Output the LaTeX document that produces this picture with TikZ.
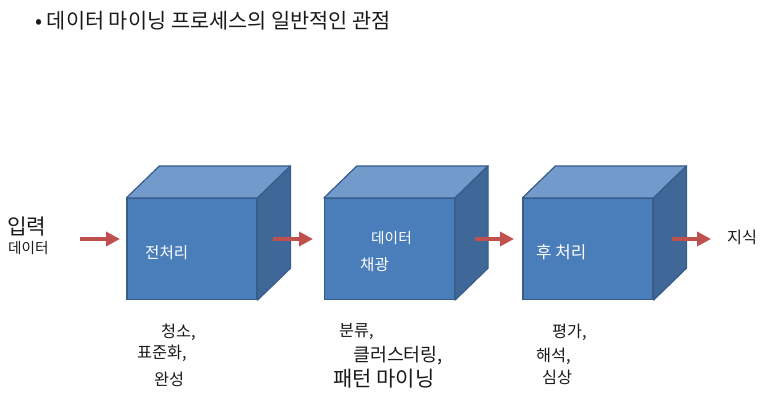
\documentclass[tikz,border=0pt]{standalone}
\usepackage{fontspec}
\setmainfont{Noto Sans CJK KR}
\usetikzlibrary{arrows.meta,calc}

\definecolor{cubefront}{HTML}{4A7EBB}
\definecolor{cubetop}{HTML}{729ACA}
\definecolor{cubeside}{HTML}{3F6899}
\definecolor{cubeedge}{HTML}{385D8A}
\definecolor{flowred}{HTML}{C0504D}
\definecolor{ink}{HTML}{1A1A1A}

\tikzset{
  front/.style={draw=cubeedge, fill=cubefront, line width=1.2pt, minimum width=130pt, minimum height=101pt, inner sep=0pt},
  topface/.style={draw=cubeedge, fill=cubetop, line width=1.2pt, line join=round},
  sideface/.style={draw=cubeedge, fill=cubeside, line width=1.2pt, line join=round},
  flow/.style={flowred, line width=4.5pt, -{Triangle[length=14pt,width=14pt]}},
  inlabel/.style={white, anchor=west, inner sep=0pt, font=\fontsize{14.7}{17}\selectfont},
  outlabel/.style={ink, anchor=west, inner sep=0pt, font=\fontsize{16.3}{19}\selectfont}
}

\newcommand{\drawcube}[1]{%
  \draw[topface] (#1.north west) -- ($(#1.north west)+(33,-32)$) -- ($(#1.north east)+(33,-32)$) -- (#1.north east) -- cycle;
  \draw[sideface] (#1.north east) -- ($(#1.north east)+(33,-32)$) -- ($(#1.south east)+(33,-32)$) -- (#1.south east) -- cycle;
}

\begin{document}
\begin{tikzpicture}[x=1pt,y=-1pt]
  \useasboundingbox (0,0) rectangle (773,409);
  % title
  \node[ink, anchor=west, inner sep=0pt, font=\fontsize{20.8}{23}\selectfont] (title) at (35,21) {• 데이터 마이닝 프로세스의 일반적인 관점};

  % cubes
  \node[front] (pre) at (192,249) {};
  \node[front] (mine) at (389.5,249) {};
  \node[front] (post) at (588,249) {};
  \drawcube{pre}
  \drawcube{mine}
  \drawcube{post}

  % labels in the cubes
  \node[inlabel, font=\fontsize{15.6}{18}\selectfont] (prelbl) at (145,253) {전처리};
  \node[inlabel] (minelbl1) at (371,238) {데이터};
  \node[inlabel, font=\fontsize{15.6}{18}\selectfont] (minelbl2) at (360,265) {채광};
  \node[inlabel, font=\fontsize{16.8}{19}\selectfont] (postlbl) at (536,252) {후 처리};

  % input and output
  \node[outlabel, font=\fontsize{21.3}{24}\selectfont] (inp) at (7,227) {입력};
  \node[outlabel, font=\fontsize{14.7}{17}\selectfont] (inpdata) at (8,248) {데이터};
  \node[outlabel] (know) at (727,237) {지식};

  % arrows
  \coordinate (a1s) at (80,239);  \coordinate (a1e) at (120,239);
  \coordinate (a2s) at (273,239); \coordinate (a2e) at (313,239);
  \coordinate (a3s) at (475,239); \coordinate (a3e) at (514,239);
  \coordinate (a4s) at (672,239); \coordinate (a4e) at (711,239);
  \draw[flow] (a1s) -- (a1e);
  \draw[flow] (a2s) -- (a2e);
  \draw[flow] (a3s) -- (a3e);
  \draw[flow] (a4s) -- (a4e);

  % steps below the cubes
  \node[outlabel] (pre1) at (161,332) {청소,};
  \node[outlabel] (pre2) at (137,353) {표준화,};
  \node[outlabel] (pre3) at (154,379) {완성};
  \node[outlabel] (mine1) at (339,332) {분류,};
  \node[outlabel, font=\fontsize{18.4}{21}\selectfont] (mine2) at (353,356) {클러스터링,};
  \node[outlabel, font=\fontsize{21}{24}\selectfont] (mine3) at (333,379) {패턴 마이닝};
  \node[outlabel] (post1) at (552,332) {평가,};
  \node[outlabel] (post2) at (536,356) {해석,};
  \node[outlabel] (post3) at (542,377) {심상};
\end{tikzpicture}
\end{document}
